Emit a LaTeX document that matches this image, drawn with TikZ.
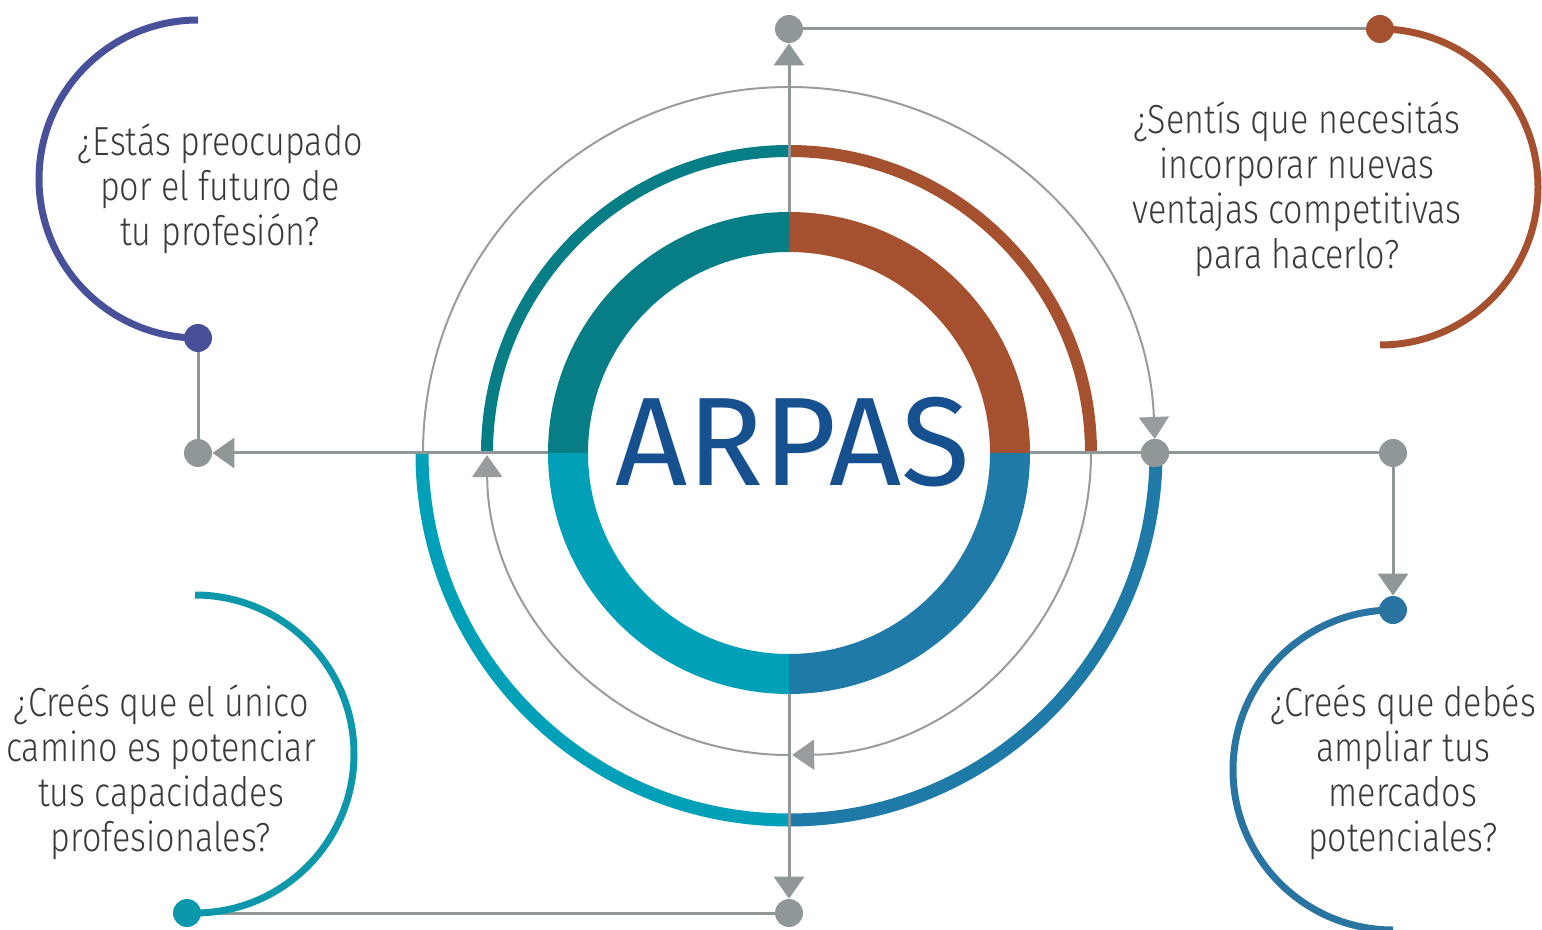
\documentclass[tikz,border=0pt]{standalone}
\usepackage{fontspec}
\setmainfont{Fira Sans}
\newfontfamily\qfont{Fira Sans Light}[FakeStretch=0.84]
\usepackage{tikz}
\usetikzlibrary{arrows.meta}
\usetikzlibrary{calc}

\definecolor{linegray}{HTML}{8F9799}
\definecolor{guidegray}{HTML}{989C9E}
\definecolor{textgray}{HTML}{3A3A3A}
\definecolor{arpasblue}{HTML}{16508F}
\definecolor{ringteal}{HTML}{077E86}
\definecolor{ringbrown}{HTML}{A5512F}
\definecolor{ringcyan}{HTML}{00A0B8}
\definecolor{ringblue}{HTML}{1F7AA8}
\definecolor{qindigo}{HTML}{48509A}
\definecolor{qcyan}{HTML}{0C98AA}
\definecolor{qblue}{HTML}{2A74A1}

\begin{document}
\begin{tikzpicture}[x=0.5pt,y=-0.5pt,>={Triangle[width=15pt,length=11pt]}]
  \tikzstyle{dot}=[circle,fill=linegray,inner sep=0pt,minimum size=14pt]
  \tikzstyle{link}=[draw=linegray,line width=1.5pt]
  \tikzstyle{guide}=[draw=guidegray,line width=1pt]
  \tikzstyle{qarc}=[line width=3.5pt]
  \tikzstyle{question}=[align=center,text=textgray,inner sep=0pt,
                        font=\qfont\fontsize{20.3}{22.5}\selectfont]
  \useasboundingbox (0,0) rectangle (1542,930);

  % centre
  \node[circle,minimum size=241pt,inner sep=0pt] (arpas) at (789,453) {};
  \node[text=arpasblue,font=\fontsize{63}{63}\selectfont,inner sep=0pt] (logo) at (793,442) {ARPAS};

  % inner ring
  \draw[ringteal,line width=20pt]  (arpas.center) ++(180:221) arc (180:270:221);
  \draw[ringbrown,line width=20pt] (arpas.center) ++(270:221) arc (270:360:221);
  \draw[ringblue,line width=20pt]  (arpas.center) ++(0:221)   arc (0:90:221);
  \draw[ringcyan,line width=20pt]  (arpas.center) ++(90:221)  arc (90:180:221);

  % outer arcs
  \draw[ringteal,line width=6pt]  (arpas.center) ++(180:302) arc (180:270:302);
  \draw[ringbrown,line width=6pt] (arpas.center) ++(270:302) arc (270:360:302);
  \draw[ringblue,line width=6.5pt] (arpas.center) ++(0:367)  arc (0:90:367);
  \draw[ringcyan,line width=6.5pt] (arpas.center) ++(90:367) arc (90:180:367);

  % thin guides
  \draw[guide,->] (arpas.center) ++(180:366) arc (180:357.8:366);
  \draw[guide,->] (arpas.center) ++(0:302)   arc (0:89.4:302);
  \draw[guide,->] (arpas.center) ++(90:302)  arc (90:179.6:302);

  % dots
  \node[dot] (top)  at (789,29)  {};
  \node[dot,fill=ringbrown] (qtr) at (1380,29) {};
  \node[dot] (rmid) at (1155,453) {};
  \node[dot] (rend) at (1393,453) {};
  \node[dot,fill=qblue] (qbr) at (1393,610) {};
  \node[dot] (bot)  at (789,913) {};
  \node[dot,fill=qcyan] (qbl) at (187,913) {};
  \node[dot] (lend) at (198,453) {};
  \node[dot,fill=qindigo] (qtl) at (198,338) {};

  % links
  \draw[link,->] (arpas.north) -- (top);
  \draw[link] (top) -- (qtr);
  \draw[link] (arpas.east) -- (rmid) -- (rend);
  \draw[link,->] (rend) -- (qbr);
  \draw[link,->] (arpas.south) -- (bot);
  \draw[link] (bot) -- (qbl);
  \draw[link,->] (arpas.west) -- (lend);
  \draw[link] (lend) -- (qtl);
  \node[dot] at (rmid) {};

  % question arcs
  \draw[qarc,qindigo] (qtl.center) arc (90:270:159);
  \draw[qarc,ringbrown] (qtr.center) arc (-90:90:158);
  \draw[qarc,qcyan] (qbl.center) ++(8,0) arc (90:-90:159);
  \draw[qarc,qblue] (qbr.center) arc (-90:-270:160);

  % questions
  \node[question] (q1) at (220,189) {¿Estás preocupado\\por el futuro de\\tu profesión?};
  \node[question] (q2) at (1297,189) {¿Sentís que necesitás\\incorporar nuevas\\ventajas competitivas\\para hacerlo?};
  \node[question] (q3) at (161,772) {¿Creés que el único\\camino es potenciar\\tus capacidades\\profesionales?};
  \node[question] (q4) at (1403,772) {¿Creés que debés\\ampliar tus\\mercados\\potenciales?};
\end{tikzpicture}
\end{document}
